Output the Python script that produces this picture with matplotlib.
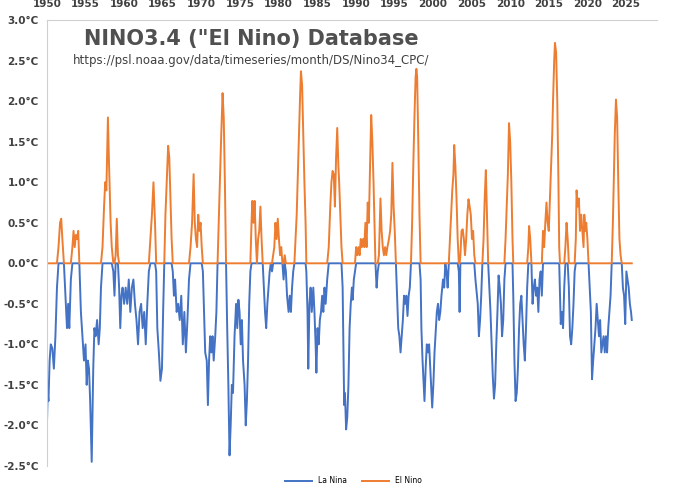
import matplotlib
matplotlib.use("Agg")
import matplotlib.pyplot as plt
import numpy as np

years = [1950.0,1950.1,1950.2,1950.35,1950.5,1950.7,1950.9,
1951.1,1951.3,1951.5,1951.7,1951.85,1952.0,1952.2,1952.4,1952.6,1952.75,1952.9,
1953.1,1953.3,1953.45,1953.6,1953.75,1953.9,1954.05,1954.2,1954.4,1954.6,1954.8,1955.0,
1955.15,1955.3,1955.45,1955.6,1955.8,1956.0,1956.15,1956.3,1956.5,1956.7,1956.85,
1957.0,1957.2,1957.4,1957.55,1957.7,1957.9,1958.05,1958.25,1958.4,1958.6,1958.75,1958.9,1959.05,1959.2,1959.35,
1959.5,1959.65,1959.8,1960.0,1960.2,1960.4,1960.6,1960.8,1961.0,1961.2,1961.4,1961.6,1961.8,1962.0,1962.2,1962.4,1962.6,1962.8,1963.0,1963.2,1963.4,1963.6,1963.8,1964.0,1964.15,1964.3,1964.5,1964.7,1964.9,
1965.05,1965.2,1965.35,1965.55,1965.7,1965.85,1966.0,1966.15,1966.3,1966.45,1966.6,1966.8,1967.0,1967.2,1967.4,1967.6,1967.8,1968.0,1968.2,1968.4,1968.6,1968.8,1969.0,1969.15,1969.3,1969.45,1969.6,1969.75,1969.9,1970.05,1970.2,1970.35,1970.5,1970.7,1970.85,1971.0,1971.15,1971.3,1971.45,1971.6,1971.8,1971.95,1972.1,
1972.25,1972.4,1972.55,1972.75,1972.9,1973.05,1973.2,1973.35,1973.5,1973.65,1973.8,1973.95,1974.1,1974.3,1974.5,1974.65,1974.8,1974.95,1975.1,1975.25,1975.4,1975.6,1975.75,1975.9,1976.05,1976.2,1976.35,1976.5,1976.6,1976.75,1976.9,1977.05,1977.2,1977.35,1977.5,1977.65,1977.8,1977.95,
1978.1,1978.25,1978.4,1978.55,1978.7,1978.85,1979.0,1979.15,1979.3,1979.45,1979.6,1979.75,1979.9,1980.05,1980.2,1980.35,1980.5,1980.65,1980.8,1980.95,1981.1,1981.3,1981.45,1981.6,1981.75,1981.9,1982.05,1982.2,1982.35,1982.5,1982.65,1982.8,1982.9,1983.05,1983.2,1983.35,1983.5,1983.6,1983.75,1983.85,1984.0,1984.15,1984.3,1984.5,1984.65,1984.8,1984.9,1985.05,1985.2,1985.35,1985.5,1985.65,1985.8,1985.95,1986.1,1986.3,1986.5,1986.7,1986.85,1987.0,1987.15,1987.3,1987.45,1987.6,1987.75,1987.85,1988.0,1988.15,1988.3,1988.4,1988.5,1988.6,1988.75,1988.9,1989.05,1989.2,1989.35,1989.5,1989.6,1989.75,1989.9,
1990.05,1990.2,1990.35,1990.5,1990.65,1990.8,1990.95,1991.1,1991.25,1991.4,1991.55,1991.7,1991.85,1992.0,1992.15,1992.3,1992.45,1992.55,1992.7,1992.85,1993.0,1993.2,1993.35,1993.5,1993.65,1993.8,1993.95,1994.1,1994.3,1994.45,1994.6,1994.75,1994.9,1995.05,1995.2,1995.35,1995.5,1995.65,1995.8,1995.95,1996.1,1996.25,1996.4,1996.55,1996.7,1996.85,1997.0,1997.15,1997.3,1997.45,1997.6,1997.75,1997.85,1997.95,1998.1,1998.25,1998.4,1998.5,1998.65,1998.8,1998.9,1999.05,1999.2,1999.35,1999.5,1999.65,1999.8,1999.9,2000.05,2000.2,2000.35,2000.5,2000.65,2000.8,2000.95,2001.1,2001.3,2001.45,2001.6,2001.75,2001.9,
2002.05,2002.2,2002.35,2002.5,2002.65,2002.75,2002.9,2003.05,2003.2,2003.35,2003.45,2003.55,2003.7,2003.85,2004.0,2004.15,2004.3,2004.45,2004.6,2004.75,2004.9,2005.05,2005.2,2005.35,2005.5,2005.65,2005.8,2005.95,2006.1,2006.25,2006.4,2006.55,2006.7,2006.85,2007.0,2007.15,2007.3,2007.45,2007.6,2007.75,2007.9,2008.05,2008.2,2008.35,2008.5,2008.65,2008.8,2008.95,2009.1,2009.25,2009.4,2009.55,2009.7,2009.85,2010.0,2010.15,2010.3,2010.4,2010.55,2010.7,2010.85,2011.0,2011.15,2011.3,2011.45,2011.6,2011.75,2011.9,2012.05,2012.2,2012.35,2012.45,2012.6,2012.75,2012.9,2013.05,2013.2,2013.35,2013.5,2013.65,2013.8,2013.95,2014.1,2014.25,2014.4,2014.55,2014.7,2014.85,2015.0,2015.15,2015.3,2015.45,2015.55,2015.7,2015.8,2015.95,2016.1,2016.25,2016.35,2016.45,2016.55,2016.7,2016.85,2017.0,2017.15,2017.3,2017.45,2017.6,2017.75,2017.9,2018.05,2018.2,2018.35,2018.5,2018.6,2018.75,2018.9,2019.05,2019.2,2019.35,2019.5,2019.6,2019.75,2019.85,2020.0,2020.15,2020.3,2020.45,2020.6,2020.75,2020.9,2021.05,2021.2,2021.35,2021.5,2021.65,2021.8,2021.95,2022.1,2022.25,2022.4,2022.55,2022.7,2022.85,2023.0,2023.15,2023.3,2023.45,2023.55,2023.7,2023.85,2024.0,2024.15,2024.3,2024.45,2024.6,2024.75,2024.9,2025.05,2025.2,2025.35,2025.5,2025.65,2025.75]

anomaly = [-2.0,-1.6,-1.7,-1.2,-1.0,-1.05,-1.3,
-0.9,-0.3,0.2,0.5,0.55,0.3,0.0,-0.4,-0.8,-0.5,-0.8,
-0.2,0.2,0.4,0.2,0.35,0.3,0.4,0.0,-0.6,-0.9,-1.2,-1.0,
-1.5,-1.2,-1.3,-1.7,-2.45,-1.3,-0.8,-0.9,-0.7,-1.0,-0.8,
-0.3,0.2,0.7,1.0,0.9,1.8,1.2,0.5,0.2,-0.1,-0.4,0.1,0.55,0.1,-0.3,
-0.8,-0.4,-0.3,-0.5,-0.3,-0.5,-0.2,-0.6,-0.3,-0.2,-0.5,-0.7,-1.0,-0.6,-0.5,-0.8,-0.6,-1.0,-0.5,-0.1,0.3,0.6,1.0,0.5,-0.1,-0.8,-1.1,-1.45,-1.3,
-0.6,0.0,0.6,1.1,1.45,1.3,0.8,0.3,-0.1,-0.4,-0.2,-0.6,-0.5,-0.7,-0.4,-1.0,-0.6,-1.1,-0.7,-0.2,0.2,0.5,1.1,0.5,0.3,0.2,0.6,0.4,0.5,0.2,-0.1,-0.6,-1.1,-1.2,-1.75,-1.2,-0.9,-1.1,-0.9,-1.2,-0.9,-0.6,0.0,
0.5,1.0,1.5,2.1,1.8,1.0,0.0,-0.8,-1.5,-2.37,-2.0,-1.5,-1.6,-0.9,-0.5,-0.8,-0.45,-0.6,-1.0,-0.7,-1.2,-1.5,-2.0,-1.7,-1.2,-0.5,-0.1,0.5,0.77,0.5,0.77,0.3,0.0,0.3,0.4,0.7,0.3,0.0,
-0.3,-0.6,-0.8,-0.5,-0.3,-0.1,0.0,-0.1,0.1,0.2,0.5,0.3,0.55,0.3,0.1,0.2,0.0,-0.2,0.1,-0.1,-0.4,-0.6,-0.4,-0.6,-0.3,-0.1,0.0,0.3,0.6,1.1,1.6,2.1,2.37,2.2,1.6,1.0,0.5,-0.1,-0.6,-1.3,-0.5,-0.3,-0.6,-0.3,-0.6,-1.0,-1.35,-0.8,-1.0,-0.7,-0.6,-0.4,-0.6,-0.3,-0.5,-0.2,0.2,0.7,1.0,1.14,1.1,0.7,1.3,1.67,1.2,1.0,0.6,0.2,-0.3,-1.0,-1.75,-1.6,-2.05,-1.9,-1.5,-0.8,-0.5,-0.3,-0.45,-0.2,-0.1,
0.2,0.1,0.2,0.1,0.3,0.2,0.3,0.2,0.5,0.2,0.75,0.5,1.2,1.83,1.5,1.0,0.4,0.0,-0.3,-0.1,0.1,0.8,0.4,0.2,0.1,0.2,0.1,0.2,0.3,0.4,0.6,1.24,0.7,0.4,0.0,-0.4,-0.8,-0.9,-1.1,-0.9,-0.7,-0.4,-0.5,-0.4,-0.65,-0.4,-0.3,0.0,0.5,1.2,1.8,2.3,2.4,2.3,1.5,0.6,-0.2,-0.8,-1.2,-1.5,-1.7,-1.3,-1.0,-1.1,-1.0,-1.3,-1.6,-1.78,-1.5,-1.1,-0.85,-0.6,-0.5,-0.7,-0.6,-0.4,-0.2,-0.3,0.0,-0.1,-0.3,
0.0,0.3,0.6,0.9,1.1,1.46,1.2,0.8,0.3,-0.1,-0.6,0.1,0.4,0.42,0.3,0.1,0.3,0.6,0.79,0.7,0.6,0.3,0.4,0.1,-0.2,-0.35,-0.5,-0.9,-0.7,-0.4,0.0,0.3,0.8,1.15,0.6,0.0,-0.3,-0.6,-1.0,-1.4,-1.67,-1.5,-1.0,-0.6,-0.15,-0.3,-0.5,-0.9,-0.7,-0.2,0.3,0.7,1.1,1.73,1.5,1.0,0.3,-0.4,-1.2,-1.7,-1.6,-1.3,-0.8,-0.5,-0.4,-0.7,-1.0,-1.2,-0.8,-0.3,0.2,0.46,0.3,0.0,-0.5,-0.3,-0.2,-0.4,-0.3,-0.6,-0.2,-0.1,-0.4,0.4,0.2,0.5,0.75,0.5,0.4,0.8,1.2,1.6,2.0,2.5,2.72,2.6,2.0,1.0,0.2,-0.4,-0.75,-0.6,-0.8,-0.3,0.2,0.5,0.3,-0.3,-0.9,-1.0,-0.8,-0.5,-0.1,0.3,0.9,0.7,0.8,0.4,0.6,0.4,0.2,0.6,0.4,0.5,0.3,0.0,-0.3,-0.6,-1.43,-1.2,-1.0,-0.8,-0.5,-0.7,-0.9,-0.7,-1.1,-1.0,-0.9,-1.1,-0.9,-1.1,-0.8,-0.6,-0.4,0.0,0.5,1.2,1.6,2.02,1.8,1.0,0.3,0.1,0.0,-0.3,-0.4,-0.75,-0.1,-0.2,-0.3,-0.5,-0.6,-0.7]

year_ticks = list(range(1950, 2030, 5))
y_ticks = [3.0, 2.5, 2.0, 1.5, 1.0, 0.5, 0.0, -0.5, -1.0, -1.5, -2.0, -2.5]

t = np.array(years)
v = np.array(anomaly)
la_nina = np.minimum(v, 0)
el_nino = np.maximum(v, 0)

fig = plt.figure(figsize=(6.8, 4.93), dpi=100)
ax = fig.add_axes([0.069, 0.055, 0.897, 0.904])
ax.plot(t, la_nina, color="#4472C4", lw=1.4, label="La Nina")
ax.plot(t, el_nino, color="#ED7D31", lw=1.4, label="El Nino")
ax.set_xlim(1950, 2029)
ax.set_ylim(-2.5, 3.0)
ax.set_yticks(y_ticks)
ax.set_yticklabels([f"{y:.1f}°C" for y in y_ticks], fontsize=7.5, color="#404040", fontweight="bold")
ax.xaxis.tick_top()
ax.set_xticks(year_ticks)
ax.set_xticklabels([str(y) for y in year_ticks], fontsize=7.5, color="#404040", fontweight="bold")
ax.tick_params(length=0, pad=6)
ax.tick_params(axis="x", pad=8)
for s in ["right", "bottom"]:
    ax.spines[s].set_visible(False)
for s in ["left", "top"]:
    ax.spines[s].set_color("#d0d0d0")

fig.text(0.124, 0.92, 'NINO3.4 ("El Nino) Database', fontsize=15, fontweight="bold", color="#505050", va="center")
fig.text(0.107, 0.878, "https://psl.noaa.gov/data/timeseries/month/DS/Nino34_CPC/", fontsize=8.5, color="#404040", va="center")
fig.legend(loc="center", bbox_to_anchor=(0.52, 0.025), ncol=2, frameon=False, fontsize=5.5, handlelength=3.5, columnspacing=2)
fig.savefig("out.png", dpi=100)
